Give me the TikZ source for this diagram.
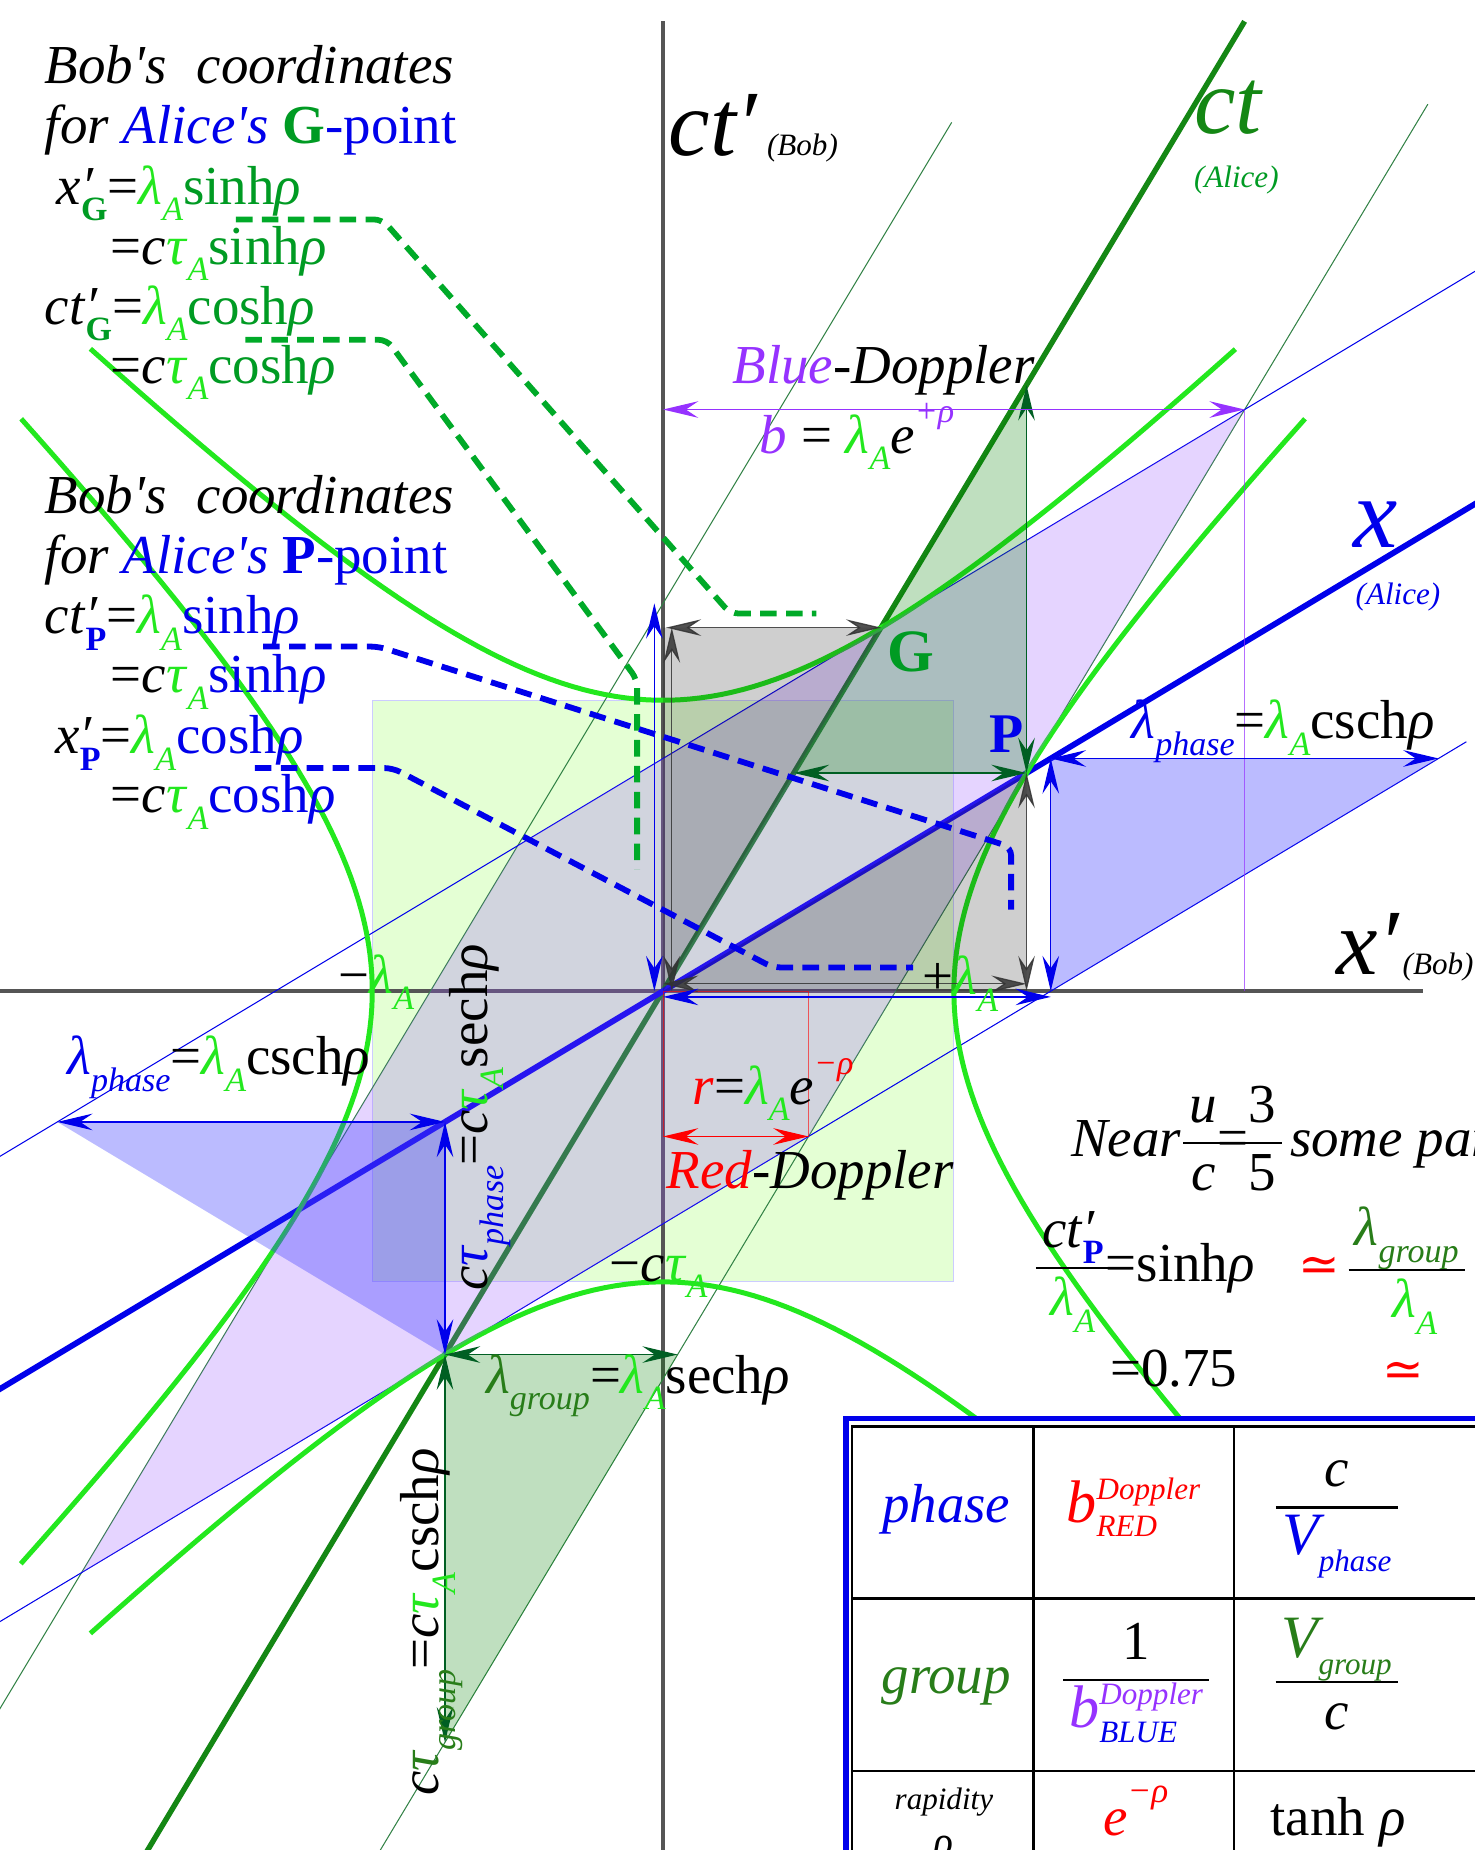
\documentclass[tikz,border=0pt]{standalone}
\usepackage{fontspec}
\setmainfont{Liberation Serif}
\newfontfamily\dvs{DejaVu Serif}
\usepackage{graphicx}
\usetikzlibrary{arrows.meta}

\definecolor{bgreen}{RGB}{35,232,30}
\definecolor{mgreen}{RGB}{0,155,35}
\definecolor{dgreen}{RGB}{40,125,25}
\definecolor{axgreen}{RGB}{20,135,20}
\definecolor{arrgreen}{RGB}{0,95,35}
\definecolor{ablue}{RGB}{0,0,235}
\definecolor{apurple}{RGB}{150,50,255}
\definecolor{ared}{RGB}{255,0,0}
\definecolor{agray}{RGB}{85,85,85}
\definecolor{lgreen}{RGB}{228,255,212}
\definecolor{lavc}{RGB}{153,85,255}
\definecolor{dashgreen}{RGB}{0,170,40}
\definecolor{thingreen}{RGB}{50,130,70}

\setlength{\arrayrulewidth}{1pt}
\newcommand{\sbs}[1]{\raisebox{-0.3em}{\scalebox{0.62}{#1}}}
\newcommand{\sps}[1]{\raisebox{0.55em}{\scalebox{0.62}{#1}}}
\newcommand{\lA}{\textcolor{bgreen}{\textit{λ}\sbs{\textit{A}}}}
\newcommand{\tA}{\textcolor{bgreen}{\textit{τ}\sbs{\textit{A}}}}
\newcommand{\rh}{\textit{ρ}}
\newcommand{\pr}{\rlap{\itshape ′}}
\newcommand{\apo}{\textquotesingle}
\newcommand{\fr}[2]{\begin{tabular}{@{\hspace{3pt}}c@{\hspace{3pt}}}#1\\\hline #2\end{tabular}}
\newcommand{\supsub}[2]{{\fontsize{15}{16}\selectfont\itshape\rlap{\raisebox{11pt}{#1}}\rlap{\raisebox{-7pt}{#2}}\phantom{#1}}}
\newcommand{\smi}[1]{{\fontsize{15}{16}\selectfont\itshape #1}}
\newcommand{\bigV}{{\fontsize{29}{32}\selectfont\itshape V}}

\tikzset{
  txt/.style={inner sep=0pt, outer sep=0pt, anchor=base west, font=\fontsize{26.5}{32}\selectfont},
  txtc/.style={txt, anchor=base},
  bigl/.style={inner sep=0pt, outer sep=0pt, anchor=base west, font=\fontsize{45}{50}\selectfont\itshape},
  smll/.style={inner sep=0pt, outer sep=0pt, anchor=base west, font=\fontsize{15}{18}\selectfont\itshape},
  bobax/.style={agray, line width=2.3pt},
  hyp/.style={bgreen, line width=2.4pt},
  thg/.style={thingreen, line width=0.5pt},
  thb/.style={ablue, line width=0.5pt},
  dbl/.style={line width=0.6pt, {Stealth[length=17pt,width=8pt,inset=6pt]}-{Stealth[length=17pt,width=8pt,inset=6pt]}},
  dsh/.style={line width=2.8pt, dash pattern=on 8pt off 4.5pt, rounded corners=4pt},
}

\begin{document}
\begin{tikzpicture}[x=0.02cm,y=-0.02cm]
\useasboundingbox (0,0) rectangle (1250,1568);
\clip (0,0) rectangle (1250,1568);
\fill[white] (0,0) rectangle (1250,1568);

\begin{scope}[shift={(562,840)},x=4.93cm,y=4.93cm]
  \coordinate (O) at (0,0);
  \coordinate (G) at (0.75,1.25);
  \coordinate (P) at (1.25,0.75);
  \coordinate (GP) at (2,2);
  \coordinate (GmP) at (-0.5,0.5);
  \coordinate (mGmP) at (-2,-2);
  \coordinate (PmG) at (0.5,-0.5);
  \coordinate (mG) at (-0.75,-1.25);
  \coordinate (Gy) at (0.01,1.25);
  \coordinate (Px) at (1.25,0);
  \coordinate (ctP) at (0.45,0.75);
  \coordinate (ctPx) at (1.25,2.0833);
  \coordinate (lgE) at (0.05,-1.25);
  \coordinate (lgS) at (-0.75,-2.5833);
  \coordinate (phR0) at (1.3333,0);
  \coordinate (phR1) at (1.3333,0.8);
  \coordinate (phR2) at (2.6667,0.8);
  \coordinate (phL0) at (-0.75,-0.45);
  \coordinate (phL1) at (-2.0833,-0.45);
  \coordinate (bTop) at (-0.03,1.3333);
  \coordinate (bBot) at (-0.03,0);
  \coordinate (bx1) at (0,-0.02);
  \coordinate (bx2) at (1.3333,-0.02);
  \coordinate (rL) at (0,-0.5);
  \coordinate (rR) at (0.5,-0.5);
  \coordinate (pL) at (0,2);
  \coordinate (GP0) at (2,0);
  \coordinate (gV0) at (0.03,0);
  \coordinate (gV1) at (0.03,1.25);
  \coordinate (gH0) at (0,0.025);
  \coordinate (gH1) at (1.25,0.025);

  % light green square
  \fill[lgreen] (-1,-1) rectangle (1,1);
  \draw[blue!20, line width=0.4pt] (-1,-1) rectangle (1,1);

  % axes
  \draw[bobax] (0,3.335) -- (0,-3.5);
  \draw[bobax] (-2.4,0) -- (2.615,0);
  \draw[axgreen, line width=2.6pt] (-2.1,-3.5) -- (2.0,3.335);
  \draw[ablue, line width=2.8pt] (-3.3,-1.98) -- (3.3,1.98);

  % Alice grid lines
  \draw[thg] (-2.75,-3.25) -- (0.9925,2.9875);
  \draw[thg] (-1.15,-3.25) -- (2.63,3.05);
  \draw[thb] (-3.0,-1.0) -- (4.375,3.425);
  \draw[thb] (-3.25,-2.75) -- (2.7625,0.8575);

  % hyperbolas
  \draw[hyp] plot[domain=-1.43:1.43,samples=80,variable=\t] ({sinh(\t)},{cosh(\t)});
  \draw[hyp] plot[domain=-1.43:1.43,samples=80,variable=\t] ({sinh(\t)},{-cosh(\t)});
  \draw[hyp] plot[domain=-1.43:1.43,samples=80,variable=\t] ({cosh(\t)},{sinh(\t)});
  \draw[hyp] plot[domain=-1.43:1.43,samples=80,variable=\t] ({-cosh(\t)},{sinh(\t)});

  % fills
  \fill[lavc, opacity=0.25] (GP) -- (GmP) -- (mGmP) -- (PmG) -- cycle;
  \fill[black, opacity=0.19] (O) -- (0,1.25) -- (G) -- cycle;
  \fill[black, opacity=0.19] (O) -- (Px) -- (P) -- cycle;
  \fill[green!50!black, opacity=0.25] (P) -- (ctP) -- (ctPx) -- cycle;
  \fill[green!50!black, opacity=0.25] (mG) -- (lgE) -- (lgS) -- cycle;
  \fill[blue!80, opacity=0.33] (phR0) -- (phR1) -- (phR2) -- cycle;
  \fill[blue!80, opacity=0.33] (mG) -- (phL0) -- (phL1) -- cycle;

  % thin helper lines
  \draw[ared, line width=0.5pt, opacity=0.6] (O) rectangle (rR);
  \draw[apurple, line width=0.6pt, opacity=0.7] (GP) -- (GP0);

  % arrows
  \draw[dbl, black!80, opacity=0.85] (Gy) -- (G);
  \draw[dbl, black!80, opacity=0.85] (gV0) -- (gV1);
  \draw[dbl, black!80, opacity=0.85] (P) -- (Px);
  \draw[dbl, black!80, opacity=0.85] (gH0) -- (gH1);
  \draw[dbl, arrgreen] (ctP) -- (P);
  \draw[dbl, arrgreen] (P) -- (ctPx);
  \draw[dbl, arrgreen] (mG) -- (lgE);
  \draw[dbl, arrgreen] (mG) -- (lgS);
  \draw[dbl, ablue] (bBot) -- (bTop);
  \draw[dbl, ablue] (bx1) -- (bx2);
  \draw[dbl, ablue] (phR0) -- (phR1);
  \draw[dbl, ablue] (phR1) -- (phR2);
  \draw[dbl, ablue] (phL1) -- (phL0);
  \draw[dbl, ablue] (phL0) -- (mG);
  \draw[dbl, ared] (rL) -- (rR);
  \draw[dbl, apurple] (pL) -- (GP);
\end{scope}

% dashed leaders
\draw[dsh, dashgreen] (200,186) -- (324,186) -- (619,520) -- (692,520);
\draw[dsh, dashgreen] (208,288) -- (328,288) -- (540,576) -- (540,737);
\draw[dsh, ablue] (223,548) -- (321,548) -- (857,718) -- (857,771);
\draw[dsh, ablue] (216,651) -- (333,651) -- (655,820) -- (774,820);

% left text block
\node[txt] (l1) at (38,71) {\textit{Bob\apo s\hspace{0.3em} coordinates}};
\node[txt] (l2) at (38,122) {\textit{for} \textcolor{ablue}{\textit{Alice\apo s}} \textcolor{mgreen}{\textbf{G}}\textcolor{ablue}{-point}};
\node[txt] (l3) at (48,173) {\textit{x}\pr\sbs{\textcolor{mgreen}{\textbf{G}}}=\lA\textcolor{mgreen}{sinh\rh}};
\node[txt] (l4) at (94,224) {=\textit{c}\tA\textcolor{mgreen}{sinh\rh}};
\node[txt] (l5) at (38,275) {\textit{ct}\pr\sbs{\textcolor{mgreen}{\textbf{G}}}=\lA\textcolor{mgreen}{cosh\rh}};
\node[txt] (l6) at (94,325) {=\textit{c}\tA\textcolor{mgreen}{cosh\rh}};
\node[txt] (l7) at (38,435) {\textit{Bob\apo s\hspace{0.3em} coordinates}};
\node[txt] (l8) at (38,486) {\textit{for} \textcolor{ablue}{\textit{Alice\apo s} \textbf{P}-point}};
\node[txt] (l9) at (38,537) {\textit{ct}\pr\sbs{\textcolor{ablue}{\textbf{P}}}=\lA\textcolor{ablue}{sinh\rh}};
\node[txt] (l10) at (94,587) {=\textit{c}\tA\textcolor{ablue}{sinh\rh}};
\node[txt] (l11) at (47,639) {\textit{x}\pr\sbs{\textcolor{ablue}{\textbf{P}}}=\lA\textcolor{ablue}{cosh\rh}};
\node[txt] (l12) at (94,689) {=\textit{c}\tA\textcolor{ablue}{cosh\rh}};

% axis labels
\node[bigl] (ctb) at (567,132) {ct′\hspace{5pt}\smi{(Bob)}};
\node[bigl, text=axgreen] (cta) at (1012,113) {ct};
\node[smll, text=mgreen] (al1) at (1012,159) {(Alice)};
\node[bigl, text=ablue, font=\fontsize{48}{50}\selectfont\itshape] (xa) at (1147,464) {x};
\node[smll, text=ablue] (al2) at (1149,512) {(Alice)};
\node[bigl] (xb) at (1133,826) {x′\hspace{2pt}\smi{(Bob)}};

% diagram labels
\node[txt] (bd) at (621,325) {\textcolor{apurple}{\textit{Blue}}\textit{-Doppler}};
\node[txt] (bf) at (644,384) {\textcolor{apurple}{\textit{b}} = \lA\textit{e}\sps{\textcolor{apurple}{\textit{+ρ}}}};
\node[txt, font=\fontsize{29}{30}\selectfont\bfseries, text=mgreen] (Glab) at (752,569) {G};
\node[txt, font=\fontsize{27}{30}\selectfont\bfseries, text=ablue] (Plab) at (839,638) {P};
\node[txt] (lpr) at (959,626) {\textcolor{ablue}{\textit{λ}\sbs{\textit{phase}}}=\lA csch\rh};
\node[txt] (mla) at (287,842) {−\lA};
\node[txt] (pla) at (782,843) {+\lA};
\node[txt] (lpl) at (57,911) {\textcolor{ablue}{\textit{λ}\sbs{\textit{phase}}}=\lA csch\rh};
\node[txt] (rf) at (587,936) {\textcolor{ared}{\textit{r}}=\lA\textit{e}\sps{\textcolor{ared}{\textit{−ρ}}}};
\node[txt] (rd) at (565,1007) {\textcolor{ared}{\textit{Red}}\textit{-Doppler}};
\node[txt] (mct) at (517,1086) {−\textit{c}\tA};
\node[txt] (lg) at (412,1181) {\textcolor{dgreen}{\textit{λ}\sbs{\textit{group}}}=\lA sech\rh};
\node[txt, rotate=90] (ctp) at (413,1094) {\textit{c}\textcolor{ablue}{\textit{τ}\sbs{\textit{phase}}}=\textit{c}\tA sech\rh};
\node[txt, rotate=90] (ctg) at (372,1522) {\textit{c}\textcolor{dgreen}{\textit{τ}\sbs{\textit{group}}}=\textit{c}\tA csch\rh};

% right text
\node[txt] (near) at (908,980) {\textit{Near}\hspace{1pt}\fr{\textit{u}}{\textit{c}}\hspace{-3pt}=\hspace{-3pt}\fr{3}{5}\hspace{4pt}\textit{some par}};
\node[txt] (ratio) at (878,1086) {\fr{\textit{ct}\pr\sbs{\textcolor{ablue}{\textbf{P}}}}{\lA}\hspace{-2pt}=sinh\rh};
\node[txtc, text=ared, font=\fontsize{24}{30}\selectfont\dvs] (ap1) at (1118,1086) {≃};
\node[txt] (gfrac) at (1143,1086) {\fr{\textcolor{dgreen}{\textit{λ}\sbs{\textit{group}}}}{\hspace{8pt}\lA}};
\node[txt] (v75) at (941,1175) {=0.75};
\node[txtc, text=ared, font=\fontsize{24}{30}\selectfont\dvs] (ap2) at (1189,1175) {≃};

% table
\fill[white] (716,1201) rectangle (1300,1640);
\draw[ablue, line width=2.5pt] (717,1640) -- (717,1202) -- (1300,1202);
\draw[line width=1.3pt] (722,1640) -- (722,1209) -- (1300,1209);
\draw[line width=1.3pt] (876,1209) -- (876,1640);
\draw[line width=1.3pt] (1046,1209) -- (1046,1640);
\draw[line width=1.3pt] (722,1355) -- (1300,1355);
\draw[line width=1.3pt] (722,1501) -- (1300,1501);

\node[txtc, text=ablue] (tph) at (802,1290) {\textit{phase}};
\node[txt, text=ared] (tb1) at (904,1290) {{\fontsize{29}{32}\selectfont\itshape b}\supsub{Doppler}{RED}};
\node[txtc] (tf1) at (1133,1290) {\fr{\textit{c}}{\textcolor{ablue}{\bigV\raisebox{-0.3em}{\smi{phase}}}}};

\node[txtc, text=dgreen] (tgr) at (802,1435) {\textit{group}};
\node[txtc] (tf2) at (963,1435) {\fr{1}{{\fontsize{29}{32}\selectfont\itshape\textcolor{apurple}{b}}\supsub{\textcolor{apurple}{Doppler}}{\textcolor{ablue}{BLUE}}}};
\node[txtc] (tf3) at (1133,1435) {\fr{\textcolor{dgreen}{\bigV\raisebox{-0.3em}{\smi{group}}}}{\textit{c}}};

\node[txtc, anchor=base] (trap) at (800,1534) {\begin{tabular}[t]{@{}c@{}}\smi{rapidity}\\[-10pt]{\fontsize{20}{22}\selectfont\itshape ρ}\end{tabular}};
\node[txt, text=ared] (te) at (935,1556) {\textit{e}\raisebox{0.6em}{{\fontsize{17}{20}\selectfont\itshape −ρ}}};
\node[txt] (ttanh) at (1077,1556) {tanh \rh};
\end{tikzpicture}
\end{document}
